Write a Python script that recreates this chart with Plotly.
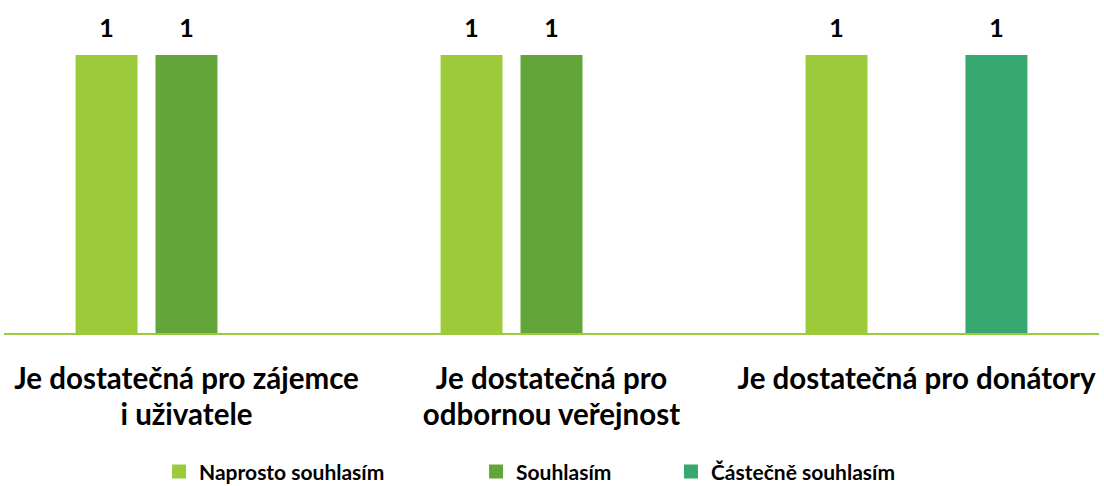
import plotly.graph_objects as go

categories = ["Je dostatečná pro zájemce<br>i uživatele",
              "Je dostatečná pro<br>odbornou veřejnost",
              "Je dostatečná pro donátory"]
series_names = ["Naprosto souhlasím", "Souhlasím", "Částečně souhlasím"]
naprosto = [1, 1, 1]
souhlasim = [1, 1, None]
castecne = [None, None, 1]
colors = ["#9BCB3B", "#64A53A", "#37A86F"]

FONT = "Lato"
legend_ids = ["legend", "legend2", "legend3"]
legend_x = [0.1416, 0.4311, 0.6091]

fig = go.Figure()
for name, vals, col, lg in zip(series_names, [naprosto, souhlasim, castecne], colors, legend_ids):
    fig.add_trace(go.Bar(
        x=categories, y=vals, name="<b>" + name + "</b>",
        marker=dict(color=col, line=dict(width=2, color=col)),
        texttemplate="<span style='font-size:25px'><b>%{y}</b></span><br> ",
        textposition="outside",
        textfont=dict(family=FONT, size=11, color="#000000"),
        cliponaxis=False,
        legend=lg,
    ))

legend_common = dict(orientation="h", xanchor="left", yref="container", y=0.029,
                     yanchor="middle", font=dict(family=FONT, size=21, color="#000000"),
                     itemwidth=30, bgcolor="rgba(0,0,0,0)")
layout_legends = {}
for lg, lx in zip(legend_ids, legend_x):
    layout_legends[lg] = dict(legend_common, x=lx)

fig.update_layout(
    width=1104, height=486,
    margin=dict(l=4, r=5, t=10, b=153),
    paper_bgcolor="white", plot_bgcolor="white",
    barmode="group", bargap=0.343, bargroupgap=0.25,
    showlegend=True,
    font=dict(family=FONT, color="#000000"),
    **layout_legends,
)

ticktext = ["<br>".join("<span style='font-size:29.5px'>" + ln + "</span>" for ln in c.split("<br>"))
            for c in categories]
fig.update_xaxes(
    automargin=False,
    tickmode="array", tickvals=categories, ticktext=ticktext,
    showline=True, linecolor="#9BCB3B", linewidth=2,
    showgrid=False, ticks="outside", ticklen=22, tickcolor="rgba(0,0,0,0)",
    tickfont=dict(family=FONT, size=27, color="#000000", weight="bold"),
)
fig.update_yaxes(visible=False, range=[0, 1.166], showgrid=False, zeroline=False)

fig.write_html("out.html", config={"displayModeBar": False},
               post_script="document.body.style.margin='0';document.body.style.overflow='hidden';")
